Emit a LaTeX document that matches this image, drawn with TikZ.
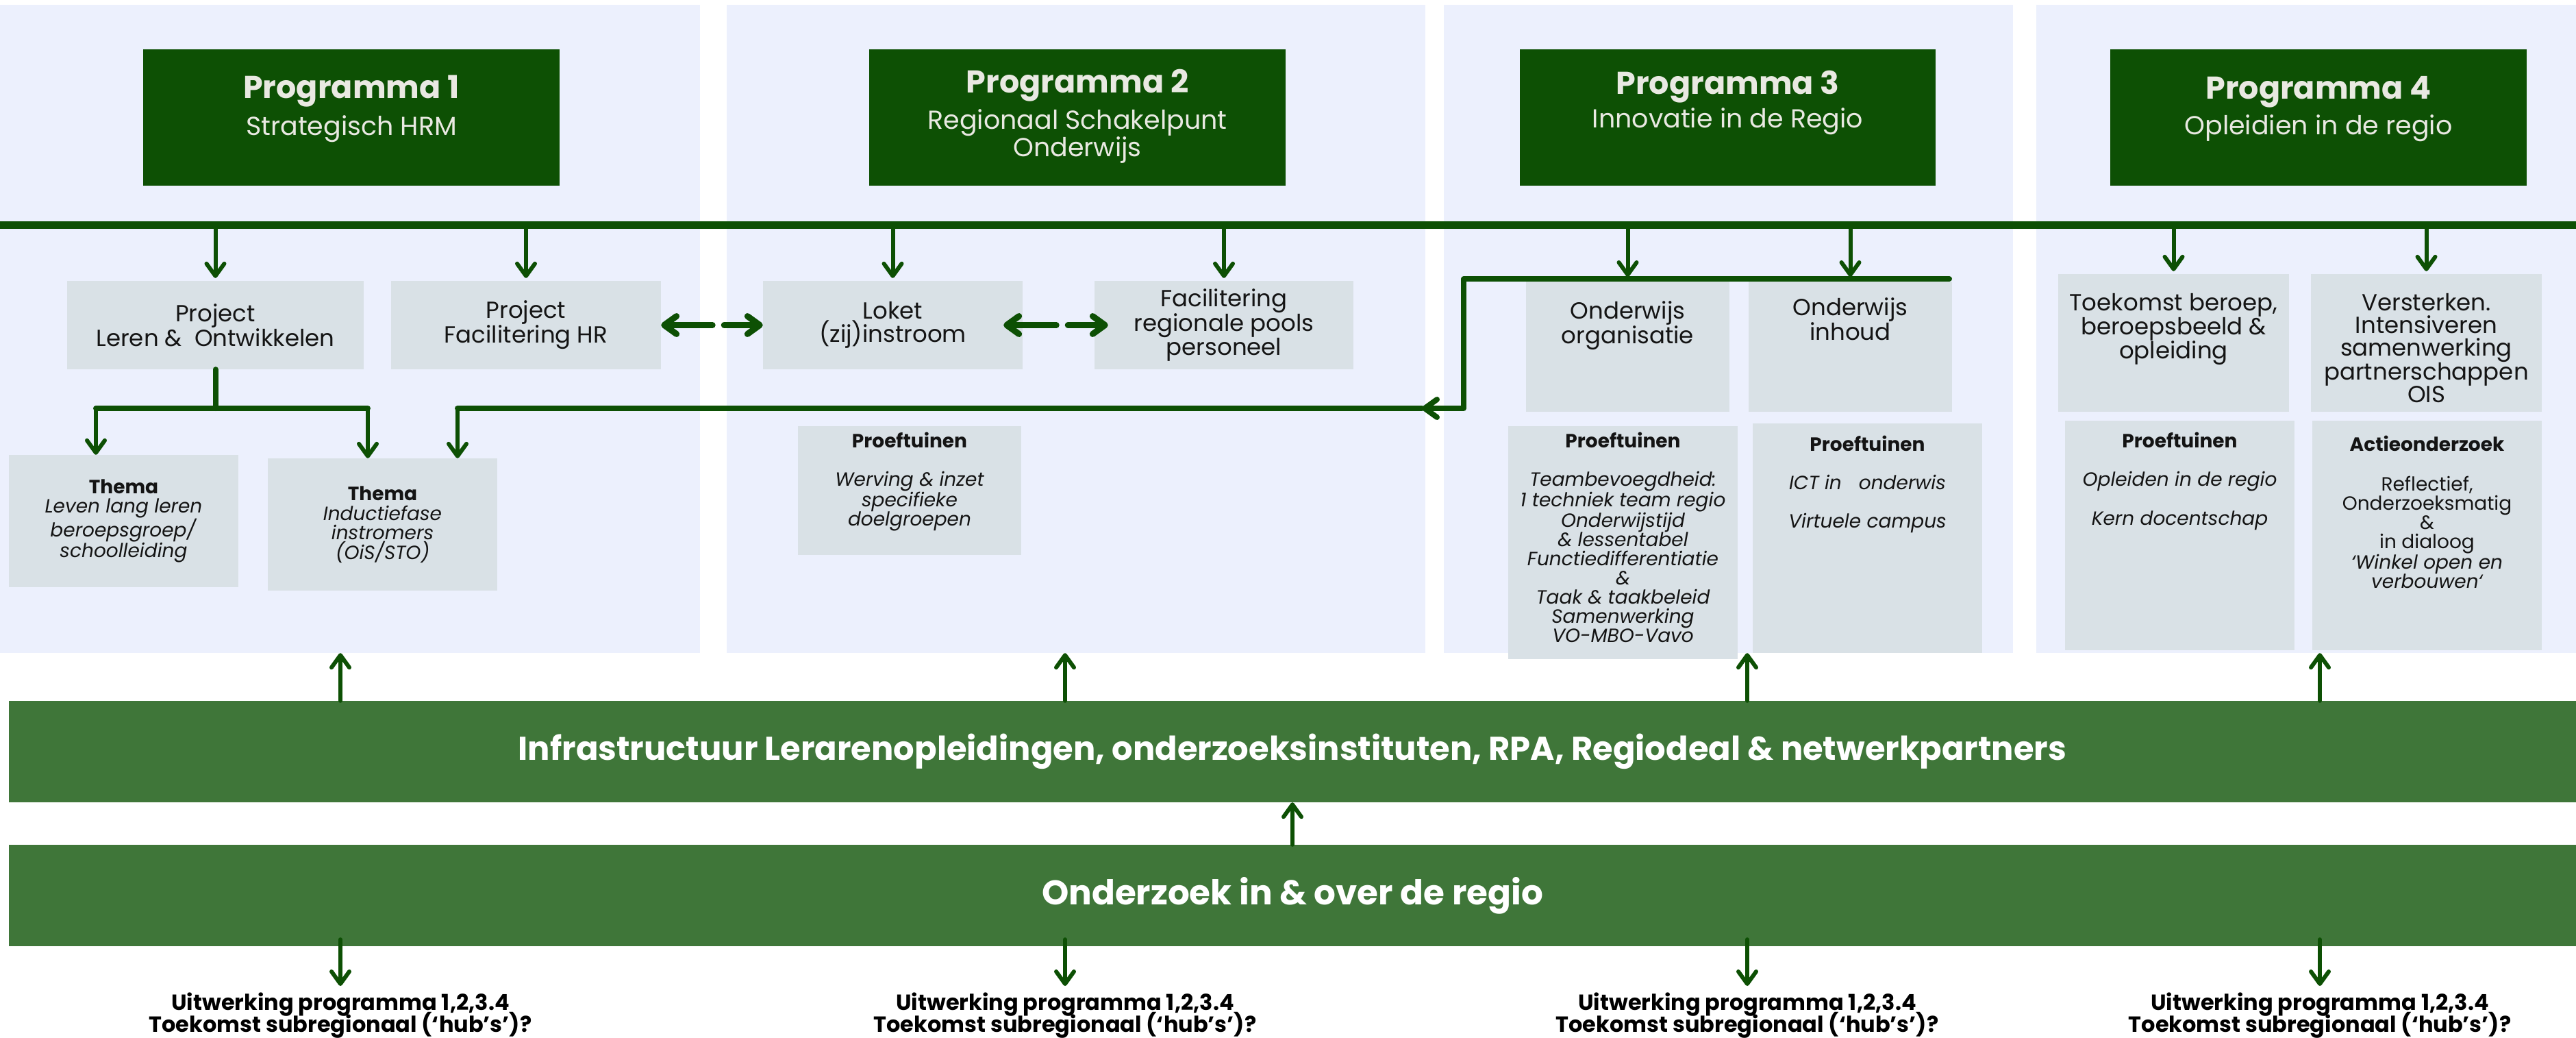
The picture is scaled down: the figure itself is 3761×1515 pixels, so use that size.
\documentclass[tikz,border=0pt]{standalone}
\usepackage{fontspec}
\setmainfont{Poppins}
\usetikzlibrary{arrows.meta,positioning}

\definecolor{progGreen}{RGB}{13,80,4}
\definecolor{bandGreen}{RGB}{63,118,57}
\definecolor{panelBlue}{RGB}{236,240,253}
\definecolor{cardGrey}{RGB}{217,225,230}
\definecolor{titleWhite}{RGB}{233,233,226}
\definecolor{inkBlack}{RGB}{20,20,20}

\newcommand{\setfs}[2]{\fontsize{#1}{#2}\selectfont}
\newcommand{\tightlines}{\setlength{\lineskiplimit}{-100pt}}

\begin{document}
\begin{tikzpicture}[x=1pt,y=-1pt,
    panel/.style = {fill=panelBlue, inner sep=0pt},
    prog/.style = {fill=progGreen, inner sep=0pt, minimum width=608pt, minimum height=199pt},
    progtitle/.style = {text=titleWhite, inner sep=0pt, anchor=base, font=\setfs{46}{52}\bfseries},
    progsub/.style = {text=titleWhite, inner sep=0pt, align=center, font=\setfs{38}{36}},
    card/.style = {fill=cardGrey, inner sep=0pt, text=inkBlack, align=center, font=\setfs{34}{33.5}},
    cardtxt/.style = {text=inkBlack, inner sep=0pt, align=center, font=\setfs{34}{33}},
    smalltxt/.style = {text=inkBlack, inner sep=0pt, align=center, font=\setfs{28}{28}},
    band/.style = {fill=bandGreen, inner sep=0pt, minimum width=3748pt, minimum height=148pt, text=white},
    foot/.style = {text=black, inner sep=0pt, align=center, anchor=north, font=\setfs{32}{32}\bfseries\tightlines},
    wire/.style = {draw=progGreen, line width=8pt, line cap=round, line join=round},
    arr/.style = {draw=progGreen, line width=6pt, line cap=round, -{Straight Barb[length=18pt,width=26pt,round]}},
    dbl/.style = {draw=progGreen, line width=9pt, line cap=round, dash pattern=on 66pt off 17pt,
                  {Straight Barb[length=18pt,width=26pt,round]}-{Straight Barb[length=18pt,width=26pt,round]}}
  ]
  \fill[white] (0,0) rectangle (3761,1515);
  \useasboundingbox (0,0) rectangle (3761,1515);

  % vier programma-vlakken
  \node[panel, minimum width=1022pt, minimum height=946pt] (pn1) at (511,480) {};
  \node[panel, minimum width=1020pt, minimum height=946pt] (pn2) at (1571,480) {};
  \node[panel, minimum width=831pt, minimum height=946pt] (pn3) at (2523.5,480) {};
  \node[panel, minimum width=788pt, minimum height=946pt] (pn4) at (3367,480) {};

  % programma's
  \node[prog] (pr1) at (513,171.5) {};
  \node[progtitle] (pr1t) at (513,143.5) {Programma 1};
  \node[progsub, anchor=base] (pr1s) at (513,197.5) {Strategisch HRM};
  \node[prog] (pr2) at (1573,171.5) {};
  \node[progtitle] (pr2t) at (1573,135) {Programma 2};
  \node[progsub, anchor=north] (pr2s) at (1573,159) {Regionaal Schakelpunt\\Onderwijs};
  \node[prog, minimum width=607pt] (pr3) at (2522.5,171.5) {};
  \node[progtitle] (pr3t) at (2522.5,137.5) {Programma 3};
  \node[progsub, anchor=base] (pr3s) at (2522.5,186) {Innovatie in de Regio};
  \node[prog] (pr4) at (3385,171.5) {};
  \node[progtitle] (pr4t) at (3385,144) {Programma 4};
  \node[progsub, anchor=base] (pr4s) at (3385,196) {Opleidien in de regio};

  \node[fill=progGreen, inner sep=0pt, minimum width=3761pt, minimum height=11pt] (bar) at (1880.5,328.5) {};

  % projecten
  \node[card, minimum width=433pt, minimum height=129pt] (lo) at (314.5,474.5) {Project\\Leren \&\ \ Ontwikkelen};
  \node[card, minimum width=394pt, minimum height=129pt] (fhr) at (768,474.5) {Project\\Facilitering HR};
  \node[card, minimum width=379pt, minimum height=129pt] (loket) at (1303.5,474.5) {Loket\\(zij)instroom};
  \node[card, minimum width=378pt, minimum height=129pt] (fac) at (1787,474.5) {Facilitering\\regionale pools\\personeel};
  \node[card, minimum width=297pt, minimum height=190pt] (oo) at (2376.5,506) {};
  \node[cardtxt, below=29pt of oo.north] (ootx) {Onderwijs\\organisatie};
  \node[card, minimum width=297pt, minimum height=190pt] (oi) at (2701.5,506) {};
  \node[cardtxt, below=24pt of oi.north] (oitx) {Onderwijs\\inhoud};
  \node[card, minimum width=337pt, minimum height=201pt] (tk) at (3173.5,500.5) {};
  \node[cardtxt, below=28pt of tk.north] (tktx) {Toekomst beroep,\\beroepsbeeld \&\\opleiding};
  \node[card, minimum width=337pt, minimum height=201pt] (vs) at (3542.5,500.5) {};
  \node[cardtxt, below=28pt of vs.north] (vstx) {Versterken.\\Intensiveren\\samenwerking\\partnerschappen\\OIS};

  % thema's en proeftuinen
  \node[card, font=\setfs{28}{28.5}, minimum width=335pt, minimum height=193pt] (tl) at (180.5,760.5)
    {\textbf{Thema}\\\textit{Leven lang leren}\\\textit{beroepsgroep/}\\\textit{schoolleiding}};
  \node[card, font=\setfs{28}{28.5}, minimum width=335pt, minimum height=193pt] (ti) at (558.5,765.5)
    {\textbf{Thema}\\\textit{Inductiefase}\\\textit{instromers}\\\textit{(OiS/STO)}};
  \node[card, minimum width=326pt, minimum height=188pt] (pt2) at (1328,716) {};
  \node[smalltxt, below=9pt of pt2.north] (pt2tx)
    {\textbf{Proeftuinen}\\[28pt]\itshape Werving \& inzet\\\itshape specifieke\\\itshape doelgroepen};
  \node[card, minimum width=335pt, minimum height=340pt] (pt3a) at (2369.5,792) {};
  \node[smalltxt, below=9pt of pt3a.north] (pt3atx)
    {\textbf{Proeftuinen}\\[28pt]\itshape Teambevoegdheid:\\\itshape 1 techniek team regio\\\itshape Onderwijstijd\\\itshape \& lessentabel\\\itshape Functiedifferentiatie\\\itshape \&\\\itshape Taak \& taakbeleid\\\itshape Samenwerking\\\itshape VO-MBO-Vavo};
  \node[card, minimum width=335pt, minimum height=335pt] (pt3b) at (2726.5,785.5) {};
  \node[smalltxt, below=18pt of pt3b.north] (pt3btx)
    {\textbf{Proeftuinen}\\[28pt]\itshape ICT in\ \ \ onderwis\\[28pt]\itshape Virtuele campus};
  \node[card, minimum width=335pt, minimum height=335pt] (pt4) at (3182.5,781.5) {};
  \node[smalltxt, below=17pt of pt4.north] (pt4tx)
    {\textbf{Proeftuinen}\\[28pt]\itshape Opleiden in de regio\\[28pt]\itshape Kern docentschap};
  \node[card, minimum width=335pt, minimum height=335pt] (ao) at (3543.5,781.5) {};
  \node[smalltxt, below=22pt of ao.north] (aotx)
    {\textbf{Actieonderzoek}\\[30pt]Reflectief,\\Onderzoeksmatig\\\&\\in dialoog\\\itshape ‘Winkel open en\\\itshape verbouwen‘};

  % infrastructuur en onderzoek
  \node[band, font=\setfs{48}{52}\bfseries] (infra) at (1887,1097)
    {Infrastructuur Lerarenopleidingen, onderzoeksinstituten, RPA, Regiodeal \& netwerkpartners};
  \node[band, font=\setfs{50}{52}\bfseries] (ondz) at (1887,1307) {Onderzoek in \& over de regio};

  \node[foot] (ft1) at (497,1449) {Uitwerking programma 1,2,3.4\\Toekomst subregionaal (‘hub’s’)?};
  \node[foot] (ft2) at (1555,1449) {Uitwerking programma 1,2,3.4\\Toekomst subregionaal (‘hub’s’)?};
  \node[foot] (ft3) at (2551,1449) {Uitwerking programma 1,2,3.4\\Toekomst subregionaal (‘hub’s’)?};
  \node[foot] (ft4) at (3387,1449) {Uitwerking programma 1,2,3.4\\Toekomst subregionaal (‘hub’s’)?};

  % verbindingen
  \coordinate (brl) at (140,596);
  \coordinate (brr) at (537,596);
  \coordinate (h3r) at (2846,407);
  \coordinate (h3l) at (2137,407);
  \coordinate (h3d) at (2137,596);
  \coordinate (h3tip) at (2076,596);
  \coordinate (tiin) at (668,596);

  \foreach \n in {lo,fhr,loket,fac,tk,vs}
    \draw[arr, shorten >=4pt] (bar.south -| \n.north) -- (\n.north);
  \draw[arr, shorten >=3pt] (bar.south -| oo.north) -- (h3l -| oo.north);
  \draw[arr, shorten >=3pt] (bar.south -| oi.north) -- (h3l -| oi.north);

  \draw[wire] (lo.south) -- (lo.south |- brl);
  \draw[wire] (brl) -- (brr);
  \draw[arr] (brl) -- (brl |- tl.north);
  \draw[arr] (brr) -- (brr |- ti.north);

  \draw[wire, -{Straight Barb[length=18pt,width=26pt,round]}] (h3r) -- (h3l) -- (h3d) -- (h3tip);
  \draw[wire] (h3tip) -- (tiin);
  \draw[arr] (tiin) -- (tiin |- ti.north);

  \draw[dbl] (fhr.east) -- (loket.west);
  \draw[dbl, dash pattern=on 68pt off 17pt, shorten <=-28pt, shorten >=-20pt] (loket.east) -- (fac.west);

  \foreach \i in {1,2,3,4} {
    \draw[arr] (infra.north -| ft\i) -- (pn\i.south -| ft\i);
    \draw[arr, shorten >=10pt] ([yshift=10pt]ondz.south -| ft\i) -- (ft\i.north);
  }
  \draw[arr] (ondz.north) -- (infra.south);
\end{tikzpicture}
\end{document}
